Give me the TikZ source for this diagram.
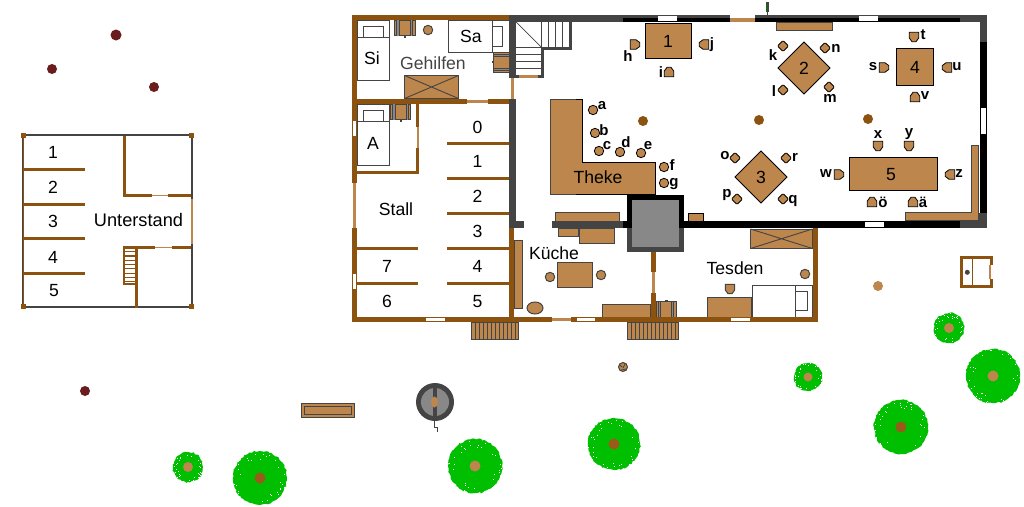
\documentclass[tikz,border=0pt]{standalone}
\usepackage{fontspec}
\setmainfont{Liberation Sans}
\usetikzlibrary{decorations.pathmorphing}
\definecolor{wallb}{HTML}{8B5210}
\definecolor{wood}{HTML}{BC864C}
\definecolor{dgray}{HTML}{444444}
\definecolor{mgray}{HTML}{888888}
\definecolor{leaf}{HTML}{00BE00}
\definecolor{trunkd}{HTML}{9A5A1A}
\definecolor{blood}{HTML}{6B1C1C}
\tikzset{
  lbl/.style={inner sep=0pt,font=\fontsize{17.6}{18}\selectfont,text=black},
  sml/.style={inner sep=0pt,font=\fontsize{15}{15}\bfseries\selectfont,text=black},
  woodg/.style={fill=wood,draw=dgray,line width=1pt},
  woodk/.style={fill=wood,draw=black,line width=1pt},
  thing/.style={fill=white,draw=dgray,line width=1pt},
  thin line/.style={draw=dgray,line width=0.9pt},
  seatk/.style={fill=wood,draw=black,line width=0.8pt},
  seatg/.style={fill=wood,draw=dgray,line width=1pt}
}
\newcommand{\Fb}[5]{\fill[#5] (#1,#2) rectangle (#3,#4);}
\newcommand{\Stool}[3][seatg]{\draw[#1] (#2,#3) circle[radius=4.7];}
\newcommand{\Dia}[2]{\draw[seatk,rounded corners=1pt] (#1-5.5,#2) -- (#1,#2-5.5) -- (#1+5.5,#2) -- (#1,#2+5.5) -- cycle;}
\newcommand{\ChT}[3][seatk]{\draw[#1] (#2-4.7,#3-4.7) -- (#2+4.7,#3-4.7) -- (#2+4.7,#3+1) -- (#2+2,#3+4.7) -- (#2-2,#3+4.7) -- (#2-4.7,#3+1) -- cycle;}
\newcommand{\ChB}[3][seatk]{\draw[#1] (#2-4.7,#3+4.7) -- (#2+4.7,#3+4.7) -- (#2+4.7,#3-1) -- (#2+2,#3-4.7) -- (#2-2,#3-4.7) -- (#2-4.7,#3-1) -- cycle;}
\newcommand{\ChL}[3][seatk]{\draw[#1] (#2-4.7,#3-4.7) -- (#2-4.7,#3+4.7) -- (#2+1,#3+4.7) -- (#2+4.7,#3+2) -- (#2+4.7,#3-2) -- (#2+1,#3-4.7) -- cycle;}
\newcommand{\ChR}[3][seatk]{\draw[#1] (#2+4.7,#3-4.7) -- (#2+4.7,#3+4.7) -- (#2-1,#3+4.7) -- (#2-4.7,#3+2) -- (#2-4.7,#3-2) -- (#2-1,#3-4.7) -- cycle;}
\newcommand{\Crate}[4]{\draw[woodg] (#1,#2) rectangle (#3,#4);
  \draw[thin line] (#1,#2) -- (#3,#4) (#3,#2) -- (#1,#4);}
\newcommand{\Baum}[5]{%
  \fill[leaf,decorate,decoration={random steps,segment length=2pt,amplitude=0.8pt}] (#1,#2) circle[radius=#3];
  \foreach \i in {1,...,30}{%
    \pgfmathsetmacro\aang{360*rnd}%
    \pgfmathsetmacro\rrad{#3*(0.7+0.3*rnd)}%
    \fill[white,shift={(#1,#2)}] (\aang:\rrad) rectangle ++(1,1);
  }
  \fill[#4] (#1,#2) circle[radius=#5];
}
\begin{document}
\begin{tikzpicture}[x=1pt,y=-1pt]
\pgfmathsetseed{42}
\fill[white] (0,0) rectangle (1024,506);
\useasboundingbox (0,0) rectangle (1024,506);

% ---------- trees and yard ----------
\Baum{188}{467}{15}{wood}{5}
\Baum{260}{478}{27}{trunkd}{5.5}
\Baum{475}{466}{27}{wood}{5.5}
\Baum{614}{444}{26}{trunkd}{5.5}
\Baum{808}{377}{14}{wood}{4.5}
\Baum{901}{427}{27}{trunkd}{5.5}
\Baum{949}{328}{15}{wood}{5}
\Baum{993}{376}{27}{wood}{5.5}
\fill[blood] (116,35) circle[radius=5.5];
\fill[blood] (52,69) circle[radius=5];
\fill[blood] (154,87) circle[radius=5];
\fill[blood] (85,391) circle[radius=5];
\fill[wood] (878,286) circle[radius=5];
% log
\draw[seatg] (623,367) circle[radius=4.5];
\draw[dgray,line width=0.8pt] (620,365) -- (622,367) (625,364) -- (623,368) (621,370) -- (626,369);
% bench
\draw[woodg] (301.5,403.5) rectangle (354,417.5);
\draw[woodg] (304,406) rectangle (351,414.5);
% well
\fill[dgray] (435,402) circle[radius=19];
\fill[mgray] (435,402) circle[radius=14];
\Fb{433}{385}{436.5}{419}{dgray}
\fill[wood] (434.5,402) ellipse[x radius=3.5,y radius=5.5];
\draw[thin line] (434,421) -- (434,427) -- (437,427) -- (437,432);

% ---------- Unterstand ----------
\draw[dgray,line width=2pt] (23,135) rectangle (192,307);
\Fb{22.5}{136}{24}{306}{wallb}
\Fb{21}{133}{26}{138}{wallb}\Fb{189}{133}{194}{138}{wallb}
\Fb{21}{304}{26}{309}{wallb}\Fb{189}{304}{194}{309}{wallb}
\foreach \yy in {168,203,237,272}{\Fb{23}{\yy}{85}{\yy+2.5}{wallb}}
\Fb{123}{136}{126}{196}{wallb}
\Fb{123}{194}{152}{196.5}{wallb}\Fb{152}{194.5}{168}{196}{wood}\Fb{168}{194}{191}{196.5}{wallb}
\Fb{190.5}{199}{193}{244}{white}\Fb{191}{199}{193}{244}{wood}
\Fb{123}{246}{155}{248.5}{wallb}\Fb{155}{246.5}{172}{248}{wood}\Fb{172}{246}{191}{248.5}{wallb}
\Fb{135}{246}{138}{308}{wallb}
\Fb{123}{246}{125}{285}{wallb}\Fb{123}{283}{136}{285}{wallb}
\foreach \yy in {251,255.3,259.6,263.9,268.2,272.5,276.8,281}{\Fb{125}{\yy}{135}{\yy+1.2}{wallb}}
\node[lbl] (u1) at (53,152) {1};
\node[lbl] (u2) at (53,187) {2};
\node[lbl] (u3) at (53,221) {3};
\node[lbl] (u4) at (53,257) {4};
\node[lbl] (u5) at (54,291) {5};
\node[lbl,font=\fontsize{18.2}{18}\selectfont] (unterstand) at (138.5,220) {Unterstand};

% ---------- furniture left wing ----------
\draw[thing] (357,20) rectangle (389,80);
\draw[thin line] (357,37) -- (389,37);
\draw[thing] (363,26) rectangle (383,37);
\draw[thing] (448,20) rectangle (509,52);
\draw[thing] (492,26) rectangle (502,46);
\draw[thin line] (492,20) -- (492,52);
\draw[woodg] (394.5,20) rectangle (415,35.5);
\Fb{396.5}{20}{399}{35.5}{mgray}\Fb{410}{20}{412.5}{35.5}{mgray}
\draw[thin line] (396.5,20) -- (396.5,35.5) (399,20) -- (399,35.5) (410,20) -- (410,35.5) (412.5,20) -- (412.5,35.5);
\Fb{403.5}{36}{405.5}{37.5}{dgray}
\Stool{428}{30}
\draw[woodg] (493.5,52) rectangle (509,72.5);
\Fb{493.5}{54}{509}{56}{mgray}\Fb{493.5}{68}{509}{70}{mgray}
\draw[thin line] (493.5,54) -- (509,54) (493.5,56) -- (509,56) (493.5,68) -- (509,68) (493.5,70) -- (509,70);
\Fb{492}{61}{493.5}{63}{dgray}
\Crate{404.5}{75.5}{458.5}{98.5}
\draw[thing] (357,104) rectangle (389,165);
\draw[thin line] (357,121) -- (389,121);
\draw[thing] (363,110) rectangle (383,121);
\draw[woodg] (390.5,104) rectangle (410.5,119.5);
\Fb{392.5}{104}{395}{119.5}{mgray}\Fb{406}{104}{408.5}{119.5}{mgray}
\draw[thin line] (392.5,104) -- (392.5,119.5) (395,104) -- (395,119.5) (406,104) -- (406,119.5) (408.5,104) -- (408.5,119.5);
\Fb{399.5}{120}{401.5}{121.5}{dgray}

% steps outside
\draw[woodg] (471.5,322) rectangle (518.5,339.5);
\foreach \xx in {475,479,...,515}{\draw[thin line] (\xx,322) -- (\xx,339.5);}
\draw[woodg] (627.5,322) rectangle (678.5,339.5);
\foreach \xx in {631,635,...,675}{\draw[thin line] (\xx,322) -- (\xx,339.5);}

% ---------- Kueche ----------
\draw[woodg] (514.5,240.5) rectangle (522.5,308.5);
\draw[seatg] (535,308) ellipse[x radius=8,y radius=6];
\draw[woodg] (557.5,262.5) rectangle (592.5,287.5);
\Stool{550}{277}
\Stool{601}{275}
\draw[woodg] (602.5,304.5) rectangle (650.5,317);
\draw[woodg] (656.5,301.5) rectangle (676.5,317);
\Fb{658.5}{301.5}{660.5}{317}{mgray}\Fb{671.5}{301.5}{673.5}{317}{mgray}
\draw[thin line] (658.5,301.5) -- (658.5,317) (660.5,301.5) -- (660.5,317) (671.5,301.5) -- (671.5,317) (673.5,301.5) -- (673.5,317);
\Fb{665}{300}{667.5}{301.5}{dgray}
\draw[woodg] (555.5,212.5) rectangle (619.5,221);
\draw[woodg] (558.5,228) rectangle (578.5,236.5);
\draw[woodg] (579.5,228) rectangle (614.5,243.5);

% ---------- Tesden ----------
\Crate{750.5}{229}{812.5}{248.5}
\Stool{805}{274}
\ChT[seatg]{730}{289}
\draw[woodg] (707.5,297.5) rectangle (751.5,317);
\draw[thing] (752.5,285.5) rectangle (812.5,317);
\draw[thin line] (795,285.5) -- (795,317);
\draw[thing] (795,291.5) rectangle (807,310.5);

% ---------- Gastraum ----------
\draw[woodg] (776.5,22) rectangle (832.5,30);
\draw[woodk] (645.5,23.5) rectangle (691.5,58.5);
\draw[woodk] (804,42) -- (830,68) -- (804,94) -- (778,68) -- cycle;
\draw[woodk] (761,151) -- (787,177) -- (761,203) -- (735,177) -- cycle;
\draw[woodk] (896.5,48.5) rectangle (933.5,85.5);
\draw[woodk] (849.5,157.5) rectangle (937.5,190);
\draw[woodk] (688.5,213.5) rectangle (703.5,221);
% Theke
\draw[fill=wood,draw=black,line width=1pt] (550.5,99.5) -- (582,99.5) -- (582,162.5) -- (655.5,162.5) -- (655.5,194) -- (550.5,194) -- cycle;
\draw[dgray,line width=1pt] (576,99.5) -- (550.5,99.5) -- (550.5,194) -- (576,194);

% seats
\foreach \sx/\sy in {593/110,595/133,599/151,620/152,641/153,664/167,664/183}{\Stool[seatk]{\sx}{\sy}}
\ChL{635}{44.5}
\ChR{704}{44.5}
\ChB{669}{72}
\Dia{783}{46}\Dia{783}{90}\Dia{825}{48}\Dia{829}{87}
\Dia{735}{158}\Dia{786}{158}\Dia{737}{199}\Dia{783}{199}
\ChT{914}{37}\ChL{884}{67.5}\ChR{947}{67.5}\ChB{915}{97}
\ChT{878}{146}\ChT{909}{146}\ChL{839}{174.5}\ChR{950}{174.5}
\ChB{872}{202}\ChB{913}{202}
% posts
\fill[wallb] (643,121) circle[radius=5];
\fill[wallb] (759,120) circle[radius=5];
\fill[wallb] (868,119) circle[radius=5];

% ---------- walls ----------
\Fb{352}{15}{509}{20}{wallb}
\Fb{352}{15}{357}{183}{wallb}
\Fb{353}{183}{356}{228}{wood}
\Fb{352}{228}{357}{322}{wallb}
\Fb{353}{121}{356}{136}{white}
\Fb{353}{274}{356}{289}{white}
\Fb{352}{99}{467}{104}{wallb}\Fb{467}{100}{488}{103}{wood}\Fb{488}{99}{509}{104}{wallb}
\Fb{416}{104}{419}{127}{wallb}\Fb{416.5}{127}{418.5}{148}{wood}\Fb{416}{148}{419}{174}{wallb}
\Fb{357}{171}{419}{174}{wallb}
\foreach \yy in {142,177,212,247,282}{\Fb{447}{\yy}{509}{\yy+3}{wallb}}
\foreach \yy in {247,282}{\Fb{357}{\yy}{418}{\yy+3}{wallb}}
\Fb{509}{228}{514}{322}{wallb}
\Fb{352}{317}{552}{322}{wallb}\Fb{552}{318}{571}{321}{wood}\Fb{571}{317}{818}{322}{wallb}
\Fb{813}{228}{818}{322}{wallb}
\Fb{426}{318}{445}{321}{white}\Fb{577}{318}{595}{321}{white}\Fb{731}{318}{750}{321}{white}
\Fb{651}{252}{656}{272}{wallb}\Fb{652}{272}{655}{293}{wood}\Fb{651}{293}{656}{320}{wallb}
% stone walls
\Fb{509}{15}{623}{22}{dgray}
\Fb{623}{15}{730}{18}{dgray}\Fb{623}{18}{730}{22}{black}
\Fb{658}{16}{677}{21}{white}
\Fb{730}{18}{755}{22}{wood}
\Fb{755}{15}{960}{18}{dgray}\Fb{755}{18}{960}{22}{black}
\Fb{859}{16}{878}{21}{white}
\Fb{960}{15}{987}{22}{dgray}
\Fb{980}{22}{987}{42}{dgray}\Fb{980}{42}{987}{213}{black}
\Fb{981}{108}{986}{134}{white}
\Fb{960}{213}{987}{228}{dgray}\Fb{684}{221}{960}{228}{black}
\Fb{865}{222}{884}{227}{white}
\Fb{509}{15}{516}{78}{dgray}
\Fb{511}{78}{514}{99}{wood}
\Fb{509}{99}{516}{228}{dgray}\Fb{509}{221}{524}{228}{dgray}
\Fb{552}{221}{623}{228}{dgray}\Fb{623}{221}{627}{228}{black}
% corner counter, lying over the stone corner
\draw[woodg] (971.5,145.5) -- (971.5,212.5) -- (905.5,212.5) -- (905.5,220) -- (978.5,220) -- (978.5,145.5) -- cycle;
% stairs
\Fb{569}{22}{572}{50}{dgray}\Fb{541}{47}{572}{50}{dgray}\Fb{541}{47}{544}{78}{dgray}
\Fb{516}{75}{519}{78}{dgray}\Fb{519}{75}{538}{78}{wood}\Fb{538}{75}{544}{78}{dgray}
\draw[thin line] (541,22) -- (541,47) (548,22) -- (548,47) (555,22) -- (555,47) (562,22) -- (562,47);
\draw[thin line] (516,47) -- (541,47) (516,54) -- (541,54) (516,61) -- (541,61) (516,68) -- (541,68);
\draw[dgray,line width=0.7pt] (516,22) -- (541,47);
% chimney
\Fb{627}{195}{684}{228}{black}
\Fb{627}{228}{684}{252}{dgray}
\Fb{632}{200}{679}{247}{mgray}

% top stick
\Fb{765.5}{2}{768.5}{12}{dgray}
\Fb{766.5}{5}{767.5}{12}{green!45!black}
\draw[thin line] (767,12) -- (767,15);

% small shed
\draw[wallb,line width=3pt] (991,265) -- (991,257.5) -- (961.5,257.5) -- (961.5,286.5) -- (991,286.5) -- (991,279);
\Fb{989}{265}{991}{279}{wood}
\Fb{972}{259}{973}{285}{wallb}
\fill[dgray] (967.3,272.3) circle[radius=2.5];

% ---------- labels ----------
\node[lbl] (si) at (372,58) {Si};
\node[lbl] (sa) at (471,36) {Sa};
\node[lbl,text=dgray] (gehilfen) at (433,63) {Gehilfen};
\node[lbl] (aa) at (373,143) {A};
\node[lbl] (s0) at (477.5,127) {0};
\node[lbl] (s1) at (477.5,161) {1};
\node[lbl] (s2) at (477.5,196) {2};
\node[lbl] (s3) at (477.5,231) {3};
\node[lbl] (s4) at (477.5,266) {4};
\node[lbl] (s5) at (477.5,302) {5};
\node[lbl] (s7) at (387,266) {7};
\node[lbl] (s6) at (387,301) {6};
\node[lbl] (stall) at (396,209) {Stall};
\node[lbl] (kueche) at (554,253) {Küche};
\node[lbl] (tesden) at (735,268) {Tesden};
\node[lbl] (theke) at (598,177) {Theke};
\node[lbl] (t1) at (668,41) {1};
\node[lbl] (t2) at (804,68) {2};
\node[lbl] (t3) at (761,177) {3};
\node[lbl] (t4) at (915,67) {4};
\node[lbl] (t5) at (891,175) {5};
\node[sml] (la) at (602,106) {a};
\node[sml] (lb) at (604,130) {b};
\node[sml] (lc) at (607,146) {c};
\node[sml] (ld) at (626,142) {d};
\node[sml] (le) at (648,146) {e};
\node[sml] (lf) at (672,165) {f};
\node[sml] (lg) at (674,184) {g};
\node[sml] (lh) at (628,56) {h};
\node[sml] (li) at (661,72) {i};
\node[sml] (lj) at (712,45) {j};
\node[sml] (lk) at (773,55) {k};
\node[sml] (ll) at (774,91) {l};
\node[sml] (lm) at (830,98) {m};
\node[sml] (ln) at (836,48) {n};
\node[sml] (lo) at (725,156) {o};
\node[sml] (lp) at (727,195) {p};
\node[sml] (lq) at (793,201) {q};
\node[sml] (lr) at (795,157) {r};
\node[sml] (ls) at (873,67) {s};
\node[sml] (lt) at (923,35) {t};
\node[sml] (lu) at (957,67) {u};
\node[sml] (lv) at (925,96) {v};
\node[sml] (lw) at (826,174) {w};
\node[sml] (lx) at (878,135) {x};
\node[sml] (ly) at (909,134) {y};
\node[sml] (lz) at (959,174) {z};
\node[sml] (loe) at (883,202) {ö};
\node[sml] (lae) at (923,202) {ä};
\end{tikzpicture}
\end{document}
